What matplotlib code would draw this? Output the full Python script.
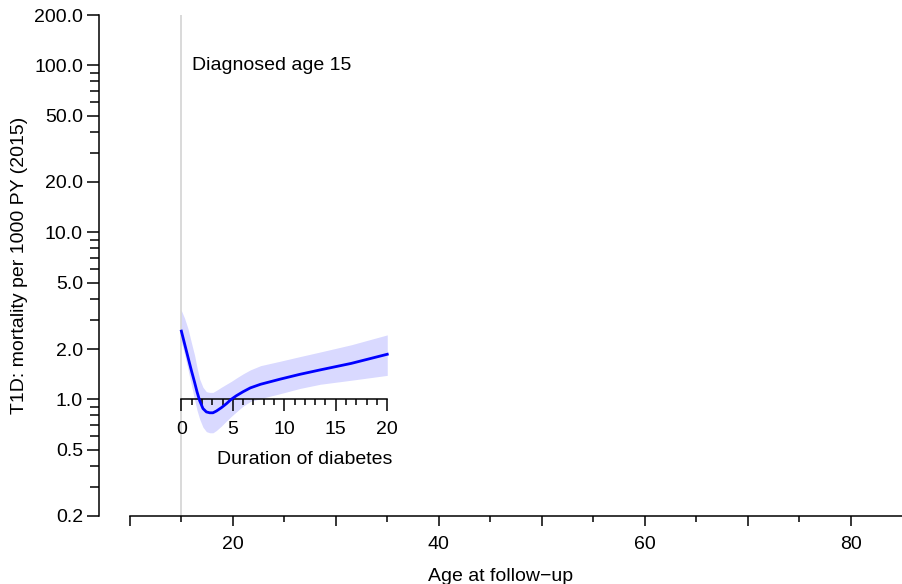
import numpy as np
import matplotlib
matplotlib.use('Agg')
import matplotlib.pyplot as plt
from matplotlib.ticker import NullLocator

plt.rcParams['font.family'] = ['Liberation Sans', 'DejaVu Sans']
plt.rcParams['font.size'] = 14

# - # data

diag_age = 15

duration = [0, 0.32, 0.65, 0.97, 1.29, 1.52, 1.78, 2.1, 2.43, 2.75, 3.07, 3.4, 3.88, 4.37, 4.85, 5.34,
            6.0, 6.7, 7.7, 9.6, 11.5, 13.5, 16.5, 20]
rate = [2.56, 2.14, 1.78, 1.49, 1.26, 1.11, 0.98, 0.88, 0.84, 0.83, 0.83, 0.85, 0.89, 0.94, 1.0, 1.05,
        1.11, 1.17, 1.23, 1.32, 1.41, 1.50, 1.64, 1.86]
upper = [3.4, 3.05, 2.64, 2.19, 1.83, 1.55, 1.32, 1.18, 1.11, 1.10, 1.10, 1.13, 1.18, 1.23, 1.28, 1.34,
         1.42, 1.50, 1.59, 1.69, 1.80, 1.92, 2.12, 2.43]
lower = [2.2, 1.85, 1.50, 1.22, 0.99, 0.86, 0.76, 0.68, 0.64, 0.63, 0.63, 0.65, 0.69, 0.74, 0.79, 0.84,
         0.91, 0.97, 1.01, 1.08, 1.16, 1.23, 1.30, 1.39]

y_major = [0.2, 0.5, 1, 2, 5, 10, 20, 50, 100, 200]
y_labels = ['0.2', '0.5', '1.0', '2.0', '5.0', '10.0', '20.0', '50.0', '100.0', '200.0']
y_minor = [0.3, 0.4, 0.6, 0.7, 0.8, 0.9, 3, 4, 6, 7, 8, 9, 30, 40, 60, 70, 80, 90]

x_major = [10, 20, 30, 40, 50, 60, 70, 80]
x_labels = ['', '20', '', '40', '', '60', '', '80']
x_minor = [15, 25, 35, 45, 55, 65, 75]

dur_major = [0, 5, 10, 15, 20]
dur_minor = list(range(0, 21))

# - # figure

W, H = 902, 584
fig = plt.figure(figsize=(W / 100, H / 100), dpi=100)
rect = [99 / W, (H - 516) / H, (W - 99) / W, (516 - 15) / H]

ax = fig.add_axes(rect)
ax.set_xlim(7, 85)
ax.set_yscale('log')
ax.set_ylim(0.2, 200)
for s in ['top', 'right']:
    ax.spines[s].set_visible(False)
ax.spines['left'].set_bounds(0.2, 200)
ax.spines['bottom'].set_bounds(10, 85)
for s in ['left', 'bottom']:
    ax.spines[s].set_linewidth(1.1)

ax.set_yticks(y_major, y_labels)
ax.set_yticks(y_minor, minor=True)
ax.yaxis.set_minor_formatter(plt.NullFormatter())
ax.set_xticks(x_major, x_labels)
ax.set_xticks(x_minor, minor=True)
ax.tick_params(axis='y', which='major', length=8.6, width=1.1, pad=3, labelsize=14)
ax.tick_params(axis='y', which='minor', length=6.2, width=1.1)
ax.tick_params(axis='x', which='major', length=7.5, width=1.1, pad=7, labelsize=14)
ax.tick_params(axis='x', which='minor', length=4.3, width=1.1)

ax.set_ylabel('T1D: mortality per 1000 PY (2015)', fontsize=14, labelpad=4)
ax.set_xlabel('Age at follow\u2212up', fontsize=14, labelpad=10.5)

ax.axvline(diag_age, color='#d3d3d3', lw=1.2, zorder=1)
ax.text(diag_age + 1, 100, 'Diagnosed age %d' % diag_age, ha='left', va='center', fontsize=14)

# inner axis: duration of diabetes, drawn on an overlaid axes shifted by diagnosis age
ax_in = fig.add_axes(rect)
ax_in.patch.set_visible(False)
ax_in.set_xlim(7 - diag_age, 85 - diag_age)
ax_in.set_yscale('log')
ax_in.set_ylim(0.2, 200)
for s in ['top', 'right', 'left']:
    ax_in.spines[s].set_visible(False)
ax_in.spines['bottom'].set_position(('data', 1.0))
ax_in.spines['bottom'].set_bounds(0, 20)
ax_in.spines['bottom'].set_linewidth(1.1)
ax_in.yaxis.set_major_locator(NullLocator())
ax_in.yaxis.set_minor_locator(NullLocator())
ax_in.set_xticks(dur_major, [str(d) for d in dur_major])
ax_in.set_xticks(dur_minor, minor=True)
ax_in.tick_params(axis='x', which='major', length=8.6, width=1.1, pad=7, labelsize=14)
ax_in.tick_params(axis='x', which='minor', length=4.5, width=1.1)

ax_in.fill_between(duration, lower, upper, color='blue', alpha=0.15, lw=0, zorder=1)
ax_in.plot(duration, rate, color='blue', lw=2.0, zorder=3)
ax_in.annotate('Duration of diabetes', xy=(12, 1.0), xycoords='data',
               xytext=(0, -60), textcoords='offset pixels', ha='center', va='center', fontsize=14)

fig.savefig('out.png', dpi=100)
